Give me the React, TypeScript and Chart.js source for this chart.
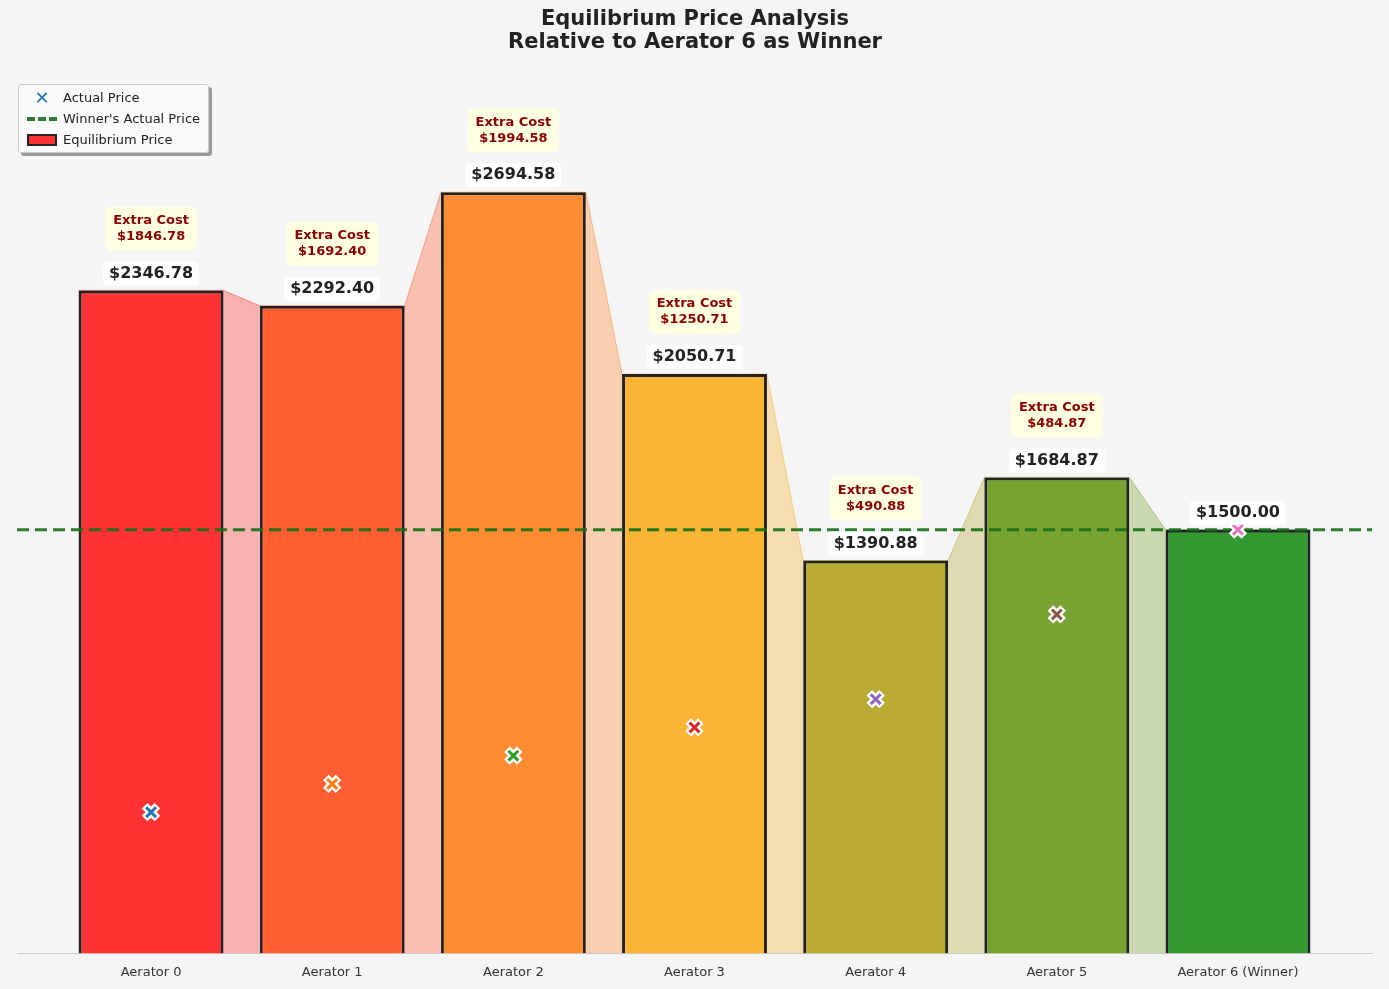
import { useEffect, useRef } from 'react';
import Chart from 'chart.js/auto';

const categories = ['Aerator 0', 'Aerator 1', 'Aerator 2', 'Aerator 3', 'Aerator 4', 'Aerator 5', 'Aerator 6 (Winner)'];
const equilibriumPrices = [2346.78, 2292.4, 2694.58, 2050.71, 1390.88, 1684.87, 1500.0];
const actualPrices = [500, 600, 700, 800, 900, 1200, 1500];
const winnerPrice = 1500;
const barColors = ['#ff3333', '#ff5e33', '#ff8c33', '#fbb433', '#b8aa33', '#78a232', '#339933'];
const markerColors = ['#1f77b4', '#ff7f0e', '#2ca02c', '#d62728', '#9467bd', '#8c564b', '#e377c2'];

const HALF = 0.4;

function withAlpha(hex: string, a: number) {
  const n = parseInt(hex.slice(1), 16);
  return `rgba(${(n >> 16) & 255},${(n >> 8) & 255},${n & 255},${a})`;
}

function roundBox(ctx: CanvasRenderingContext2D, x: number, y: number, w: number, h: number, r: number, fill: string) {
  ctx.beginPath();
  ctx.roundRect(x, y, w, h, r);
  ctx.fillStyle = fill;
  ctx.fill();
}

const labelPlugin = {
  id: 'labels',
  afterDatasetsDraw(chart: any) {
    const { ctx, scales } = chart;
    ctx.save();
    ctx.textAlign = 'center';
    ctx.textBaseline = 'middle';
    equilibriumPrices.forEach((p, i) => {
      const x = scales.x.getPixelForValue(i);
      const top = scales.y.getPixelForValue(p);
      const txt = '$' + p.toFixed(2);
      ctx.font = 'bold 16px "DejaVu Sans"';
      const w = ctx.measureText(txt).width + 12;
      roundBox(ctx, x - w / 2, top - 29, w, 24, 4, 'rgba(255,255,255,0.85)');
      ctx.fillStyle = '#222';
      ctx.fillText(txt, x, top - 17);
      const extra = p - actualPrices[i];
      if (i < categories.length - 1) {
        ctx.font = 'bold 13px "DejaVu Sans"';
        const l2 = '$' + extra.toFixed(2);
        const w2 = Math.max(ctx.measureText('Extra Cost').width, ctx.measureText(l2).width) + 16;
        roundBox(ctx, x - w2 / 2, top - 84, w2, 44, 6, 'rgba(255,255,224,0.95)');
        ctx.fillStyle = '#8b0000';
        ctx.fillText('Extra Cost', x, top - 70);
        ctx.fillText(l2, x, top - 54);
      }
    });
    ctx.restore();
  },
};

const bgPlugin = {
  id: 'bg',
  beforeDraw(chart: any) {
    const { ctx, width, height } = chart;
    ctx.save();
    ctx.fillStyle = '#f5f5f5';
    ctx.fillRect(0, 0, width, height);
    ctx.restore();
  },
};

export default function App() {
  const ref = useRef<HTMLCanvasElement>(null);

  useEffect(() => {
    document.body.style.margin = '0';
    document.body.style.background = '#f5f5f5';
    if (!ref.current) return;
    const edgePoints: { x: number; y: number }[] = [];
    equilibriumPrices.forEach((p, i) => {
      edgePoints.push({ x: i - HALF, y: p }, { x: i + HALF, y: p });
    });
    const xmin = -0.74;
    const xmax = categories.length - 1 + 0.74;
    const chart = new Chart(ref.current, {
      data: {
        datasets: [
          {
            type: 'bar',
            data: equilibriumPrices.map((p, i) => ({ x: i, y: p })),
            backgroundColor: barColors,
            borderColor: '#222',
            borderWidth: 3,
            barPercentage: 0.8,
            categoryPercentage: 1,
            order: 5,
          },
          {
            type: 'line',
            data: edgePoints,
            pointRadius: 0,
            borderWidth: 1,
            fill: 'origin',
            segment: {
              backgroundColor: (c: any) => withAlpha(barColors[Math.floor(c.p0DataIndex / 2)], 0.35),
              borderColor: (c: any) => withAlpha(barColors[Math.floor(c.p0DataIndex / 2)], 0.5),
            },
            order: 10,
          },
          {
            type: 'line',
            data: [{ x: xmin, y: winnerPrice }, { x: xmax, y: winnerPrice }],
            borderColor: 'rgba(20,110,20,0.9)',
            borderWidth: 3,
            borderDash: [12, 6],
            pointRadius: 0,
            order: 2,
          },
          {
            type: 'scatter',
            data: actualPrices.map((p, i) => ({ x: i, y: p })),
            pointStyle: 'crossRot',
            pointRadius: 9,
            pointBorderWidth: 8,
            pointBorderColor: '#fff',
            pointBackgroundColor: '#fff',
            order: 1,
          },
          {
            type: 'scatter',
            data: actualPrices.map((p, i) => ({ x: i, y: p })),
            pointStyle: 'crossRot',
            pointRadius: 7,
            pointBorderWidth: 3,
            pointBorderColor: markerColors,
            pointBackgroundColor: markerColors,
            order: 0,
          },
        ] as any,
      },
      options: {
        animation: false,
        responsive: false,
        layout: { padding: { left: 10, right: 9, bottom: 6 } },
        plugins: {
          legend: { display: false },
          tooltip: { enabled: false },
          title: {
            display: true,
            text: ['Equilibrium Price Analysis', 'Relative to Aerator 6 as Winner'],
            font: { family: 'DejaVu Sans', size: 21, weight: 'bold', lineHeight: 1.1 },
            color: '#222',
            padding: { top: 8, bottom: 2 },
          },
        },
        scales: {
          x: {
            type: 'linear',
            offset: false,
            min: xmin,
            max: xmax,
            grid: { display: false },
            border: { color: '#ccc' },
            afterBuildTicks: (axis: any) => {
              axis.ticks = categories.map((_, i) => ({ value: i }));
            },
            ticks: {
              callback: (v: any) => categories[v] ?? '',
              color: '#333',
              font: { family: 'DejaVu Sans', size: 13 },
              maxRotation: 0,
            },
          },
          y: { display: false, min: 0, max: 3176 },
        },
      },
      plugins: [bgPlugin, labelPlugin],
    });
    return () => chart.destroy();
  }, []);

  const item = { display: 'flex', alignItems: 'center', height: 21 } as const;
  return (
    <div style={{ position: 'relative', width: 1389, height: 989, background: '#f5f5f5', fontFamily: 'DejaVu Sans' }}>
      <canvas ref={ref} width={1389} height={989} style={{ display: 'block' }} />
      <div
        style={{
          position: 'absolute', left: 18, top: 84, padding: '2px 8px', background: 'rgba(250,250,250,0.95)',
          border: '1px solid #ccc', borderRadius: 3, boxShadow: '3px 3px 0 #999', fontSize: 13, color: '#222',
        }}
      >
        <div style={item}>
          <span style={{ width: 30, color: '#1f77b4', fontWeight: 'bold', fontSize: 18, textAlign: 'center' }}>✕</span>
          <span style={{ marginLeft: 6 }}>Actual Price</span>
        </div>
        <div style={item}>
          <span style={{ width: 30, borderTop: '4px dashed #2e7d32' }} />
          <span style={{ marginLeft: 6 }}>Winner's Actual Price</span>
        </div>
        <div style={item}>
          <span style={{ width: 26, height: 8, background: '#ff3333', border: '2px solid #222' }} />
          <span style={{ marginLeft: 6 }}>Equilibrium Price</span>
        </div>
      </div>
    </div>
  );
}
